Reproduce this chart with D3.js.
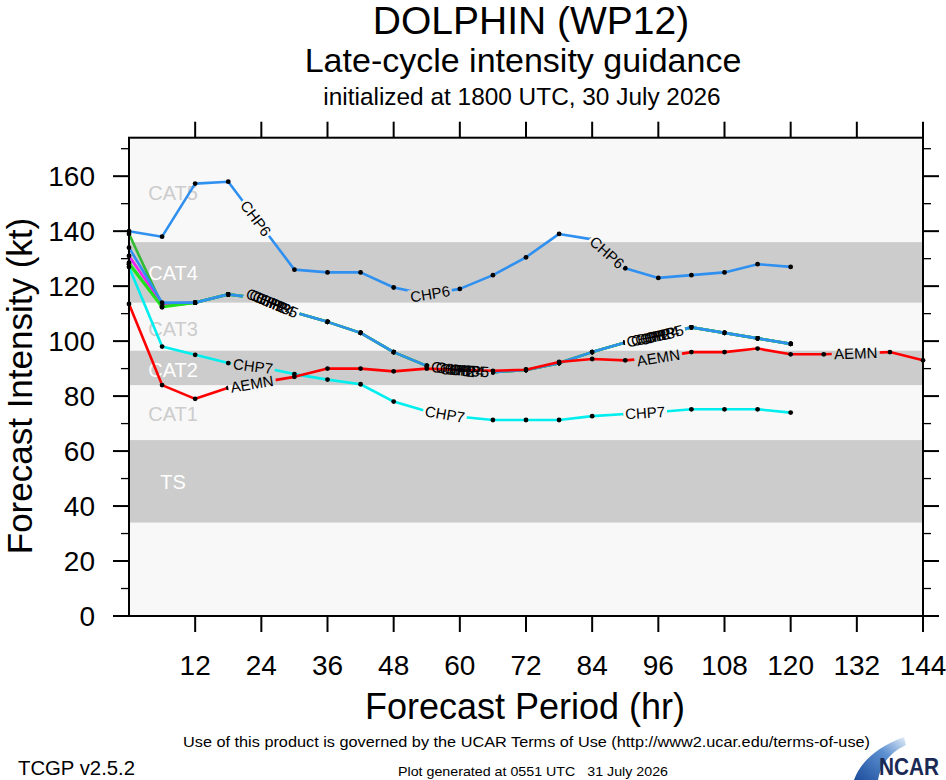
<!DOCTYPE html>
<html lang="en">
<head>
  <meta charset="utf-8" />
  <title>DOLPHIN (WP12) late-cycle intensity guidance</title>
  <script src="https://cdn.jsdelivr.net/npm/d3@7"></script>
  <style>
    body { margin: 0; background: #fff; }
    svg { display: block; font-family: "Liberation Sans", Arial, Helvetica, sans-serif; }
  </style>
</head>
<body>
  <div id="chart"></div>
  <script>
    // forecast hours (every 6 h)
    const hours = [0, 6, 12, 18, 24, 30, 36, 42, 48, 54, 60, 66, 72, 78, 84, 90, 96, 102, 108, 114, 120, 126, 132, 138, 144];
    const xTicks = [12, 24, 36, 48, 60, 72, 84, 96, 108, 120, 132, 144];
    const yTicks = [0, 20, 40, 60, 80, 100, 120, 140, 160];
    const yMinor = [10, 30, 50, 70, 90, 110, 130, 150, 170];

    // Saffir-Simpson shading and labels (kt)
    const bands = [[34, 64], [84, 96.5], [114, 136]];
    const catNames = ["CAT5", "CAT4", "CAT3", "CAT2", "CAT1", "TS"];
    const catLevels = [154, 125, 104.5, 89.5, 73.5, 49];
    const catShaded = [false, true, false, true, false, true];

    // model intensities (kt)
    const chp1 = [139, 113, 114, 117, 115.5, 110.5, 107, 103, 96, 91, 89.5, 88.7, 89.5, 92, 96, 99.5, 102, 105, 103, 101, 99];
    const chp2 = [131, 113.5, 114, 117, 115.5, 110.5, 107, 103, 96, 91, 89.5, 88.7, 89.5, 92, 96, 99.5, 102, 105, 103, 101, 99];
    const chp3 = [128, 112.3, 114, 117, 115.5, 110.5, 107, 103, 96, 91, 89.5, 88.7, 89.5, 92, 96, 99.5, 102, 105, 103, 101, 99];
    const chp4 = [128.5, 112.6, 114, 117, 115.5, 110.5, 107, 103, 96, 91, 89.5, 88.7, 89.5, 92, 96, 99.5, 102, 105, 103, 101, 99];
    const chp5 = [134, 114, 114, 117, 115.5, 110.5, 107, 103, 96, 91, 89.5, 88.7, 89.5, 92, 96, 99.5, 102, 105, 103, 101, 99];
    const chp6 = [140, 138, 157.3, 158, 142, 126, 125, 125, 119.5, 117, 119, 124, 130.5, 139, 137, 126.5, 123, 124, 125, 128, 127];
    const chp7 = [127, 98, 95, 92, 90.5, 88, 86, 84.3, 78, 74.5, 72.5, 71.3, 71.3, 71.3, 72.7, 73.5, 74.2, 75.2, 75.2, 75.2, 74];
    const aemn = [113.5, 84, 79, 83, 85, 87, 90, 90, 89, 90, 89.5, 89.2, 89.6, 92.4, 93.5, 93, 94, 96, 96, 97.3, 95.2, 95.2, 95.6, 96, 93];

    // where the line labels sit (forecast hour along each line)
    const chp6Labels = [23, 54.6, 86.7];
    const chp7Labels = [22.5, 57.3, 93.6];
    const aemnLabels = [22.3, 96, 131.8];
    const clusterLabels = [
      [24.7, 25.3, 25.9, 26.5, 27.2],
      [58.4, 59.2, 60.0, 60.8, 61.7],
      [93.8, 94.6, 95.4, 96.2, 97.0]
    ];

    const width = 946, height = 780;

    const x = d3.scaleLinear().domain([0, 144]).range([129, 923]);
    const y = d3.scaleLinear().domain([0, 174]).range([616, 137.7]);

    const svg = d3.select("#chart").append("svg")
      .attr("width", width).attr("height", height)
      .attr("viewBox", [0, 0, width, height]);

    // titles
    svg.append("text").attr("x", 531).attr("y", 34).attr("text-anchor", "middle")
      .attr("font-size", 39).text("DOLPHIN (WP12)");
    svg.append("text").attr("x", 523).attr("y", 72).attr("text-anchor", "middle")
      .attr("font-size", 34).text("Late-cycle intensity guidance");
    svg.append("text").attr("x", 522).attr("y", 105).attr("text-anchor", "middle")
      .attr("font-size", 24.4).text("initialized at 1800 UTC, 30 July 2026");

    // plot background and category bands
    svg.append("rect").attr("x", x(0)).attr("y", y(174))
      .attr("width", x(144) - x(0)).attr("height", y(0) - y(174)).attr("fill", "#f8f8f8");
    svg.append("g").selectAll("rect").data(bands).join("rect")
      .attr("x", x(0)).attr("width", x(144) - x(0))
      .attr("y", d => y(d[1])).attr("height", d => y(d[0]) - y(d[1]))
      .attr("fill", "#cccccc");
    svg.append("g").selectAll("text").data(catNames).join("text")
      .attr("x", x(8)).attr("y", (d, i) => y(catLevels[i]))
      .attr("dy", "0.36em").attr("text-anchor", "middle").attr("font-size", 20)
      .attr("fill", (d, i) => catShaded[i] ? "#ffffff" : "#cccccc")
      .text(d => d);

    // series, bottom to top
    const series = [
      { key: "CHP1", color: "#33bb33", values: chp1, labels: clusterLabels.map(c => c[0]) },
      { key: "CHP2", color: "#ee22ee", values: chp2, labels: clusterLabels.map(c => c[1]) },
      { key: "CHP3", color: "#22ee22", values: chp3, labels: clusterLabels.map(c => c[2]) },
      { key: "CHP4", color: "#22dd22", values: chp4, labels: clusterLabels.map(c => c[3]) },
      { key: "CHP5", color: "#3090f0", values: chp5, labels: clusterLabels.map(c => c[4]) },
      { key: "CHP6", color: "#3090f0", values: chp6, labels: chp6Labels },
      { key: "CHP7", color: "#00eeee", values: chp7, labels: chp7Labels },
      { key: "AEMN", color: "#ff0000", values: aemn, labels: aemnLabels }
    ];
    const cluster = new Set(["CHP1", "CHP2", "CHP3", "CHP4", "CHP5"]);

    // position and angle of a label placed at hour h along a line
    function along(values, h) {
      const i = Math.min(Math.floor(h / 6), values.length - 2);
      const x0 = x(hours[i]), y0 = y(values[i]);
      const x1 = x(hours[i + 1]), y1 = y(values[i + 1]);
      const t = (h - hours[i]) / 6;
      return { px: x0 + (x1 - x0) * t, py: y0 + (y1 - y0) * t, ang: Math.atan2(y1 - y0, x1 - x0) * 180 / Math.PI };
    }

    series.forEach(s => {
      s.spots = s.labels.map(h => along(s.values, h));
    });
    const clusterSpots = series.filter(s => cluster.has(s.key)).flatMap(s => s.spots);

    // masks break each line around its labels
    const defs = svg.append("defs");
    series.forEach((s, i) => {
      const m = defs.append("mask").attr("id", "gap" + i)
        .attr("maskUnits", "userSpaceOnUse")
        .attr("x", 0).attr("y", 0).attr("width", width).attr("height", height);
      m.append("rect").attr("width", width).attr("height", height).attr("fill", "#fff");
      const spots = cluster.has(s.key) ? clusterSpots : s.spots;
      const w = s.key === "AEMN" ? 48 : 44;
      m.selectAll("rect.g").data(spots).join("rect").attr("class", "g")
        .attr("x", -w / 2).attr("y", -7).attr("width", w).attr("height", 14)
        .attr("fill", "#000")
        .attr("transform", d => `translate(${d.px},${d.py}) rotate(${d.ang})`);
    });

    const line = d3.line().x((d, i) => x(hours[i])).y(d => y(d));

    const serie = svg.append("g").selectAll("g").data(series).join("g")
      .attr("mask", (d, i) => `url(#gap${i})`);
    serie.append("path")
      .attr("fill", "none").attr("stroke", d => d.color)
      .attr("stroke-width", 2.6).attr("stroke-linejoin", "round")
      .attr("d", d => line(d.values));
    serie.selectAll("circle").data(d => d.values).join("circle")
      .attr("cx", (d, i) => x(hours[i])).attr("cy", d => y(d))
      .attr("r", 2.4).attr("fill", "#000");

    // line labels
    svg.append("g").selectAll("g").data(series).join("g")
      .selectAll("text").data(d => d.spots.map(p => ({ key: d.key, ...p }))).join("text")
      .attr("transform", d => `translate(${d.px},${d.py}) rotate(${d.ang})`)
      .attr("text-anchor", "middle").attr("dy", "0.36em").attr("font-size", 15)
      .attr("fill", "#000").text(d => d.key);

    // axes
    const axisColor = "#000";
    const leftAxis = svg.append("g").attr("transform", `translate(${x(0)},0)`);
    leftAxis.selectAll("line.maj").data(yTicks).join("line").attr("class", "maj")
      .attr("x1", -16).attr("x2", 0).attr("y1", d => y(d)).attr("y2", d => y(d))
      .attr("stroke", axisColor).attr("stroke-width", 2);
    leftAxis.selectAll("line.min").data(yMinor).join("line").attr("class", "min")
      .attr("x1", -8).attr("x2", 0).attr("y1", d => y(d)).attr("y2", d => y(d))
      .attr("stroke", axisColor).attr("stroke-width", 1.3);
    leftAxis.selectAll("text").data(yTicks).join("text")
      .attr("x", -34).attr("y", d => y(d)).attr("dy", "0.36em")
      .attr("text-anchor", "end").attr("font-size", 28).text(d => d);

    const rightAxis = svg.append("g").attr("transform", `translate(${x(144)},0)`);
    rightAxis.selectAll("line.maj").data(yTicks).join("line").attr("class", "maj")
      .attr("x1", 0).attr("x2", 16).attr("y1", d => y(d)).attr("y2", d => y(d))
      .attr("stroke", axisColor).attr("stroke-width", 2);
    rightAxis.selectAll("line.min").data(yMinor).join("line").attr("class", "min")
      .attr("x1", 0).attr("x2", 8).attr("y1", d => y(d)).attr("y2", d => y(d))
      .attr("stroke", axisColor).attr("stroke-width", 1.3);

    const bottomAxis = svg.append("g").attr("transform", `translate(0,${y(0)})`);
    bottomAxis.selectAll("line").data(xTicks).join("line")
      .attr("x1", d => x(d)).attr("x2", d => x(d)).attr("y1", 0).attr("y2", 16)
      .attr("stroke", axisColor).attr("stroke-width", 2);
    bottomAxis.selectAll("text").data(xTicks).join("text")
      .attr("x", d => x(d)).attr("y", 59).attr("text-anchor", "middle")
      .attr("font-size", 28).text(d => d);

    const topAxis = svg.append("g").attr("transform", `translate(0,${y(174)})`);
    topAxis.selectAll("line").data(xTicks).join("line")
      .attr("x1", d => x(d)).attr("x2", d => x(d)).attr("y1", 0).attr("y2", -16)
      .attr("stroke", axisColor).attr("stroke-width", 2);

    svg.append("rect").attr("x", x(0)).attr("y", y(174))
      .attr("width", x(144) - x(0)).attr("height", y(0) - y(174))
      .attr("fill", "none").attr("stroke", axisColor).attr("stroke-width", 2);

    // axis titles
    svg.append("text").attr("x", 525).attr("y", 719).attr("text-anchor", "middle")
      .attr("font-size", 36).text("Forecast Period (hr)");
    svg.append("text").attr("transform", "translate(32,386) rotate(-90)")
      .attr("text-anchor", "middle").attr("font-size", 35).text("Forecast Intensity (kt)");

    // footer
    svg.append("text").attr("x", 183).attr("y", 747).attr("font-size", 15)
      .attr("textLength", 687).attr("lengthAdjust", "spacingAndGlyphs")
      .text("Use of this product is governed by the UCAR Terms of Use (http://www2.ucar.edu/terms-of-use)");
    svg.append("text").attr("x", 18).attr("y", 775).attr("font-size", 20)
      .attr("textLength", 117).attr("lengthAdjust", "spacingAndGlyphs").text("TCGP v2.5.2");
    svg.append("text").attr("x", 398).attr("y", 776).attr("font-size", 13)
      .attr("textLength", 270).attr("lengthAdjust", "spacingAndGlyphs")
      .attr("xml:space", "preserve").text("Plot generated at 0551 UTC   31 July 2026");

    // NCAR logo
    const grad = defs.append("linearGradient").attr("id", "swoosh")
      .attr("x1", "0%").attr("y1", "100%").attr("x2", "100%").attr("y2", "0%");
    grad.append("stop").attr("offset", "0%").attr("stop-color", "#1c4d9c");
    grad.append("stop").attr("offset", "60%").attr("stop-color", "#5b8fd0");
    grad.append("stop").attr("offset", "100%").attr("stop-color", "#e6eef8");
    svg.append("path")
      .attr("d", "M854,780 Q864,752 904,737 L906,745 Q882,756 878,780 Z")
      .attr("fill", "url(#swoosh)");
    svg.append("text").attr("x", 879).attr("y", 775).attr("font-size", 23)
      .attr("font-weight", "bold").attr("fill", "#1b2a55")
      .attr("textLength", 60).attr("lengthAdjust", "spacingAndGlyphs").text("NCAR");
  </script>
</body>
</html>
